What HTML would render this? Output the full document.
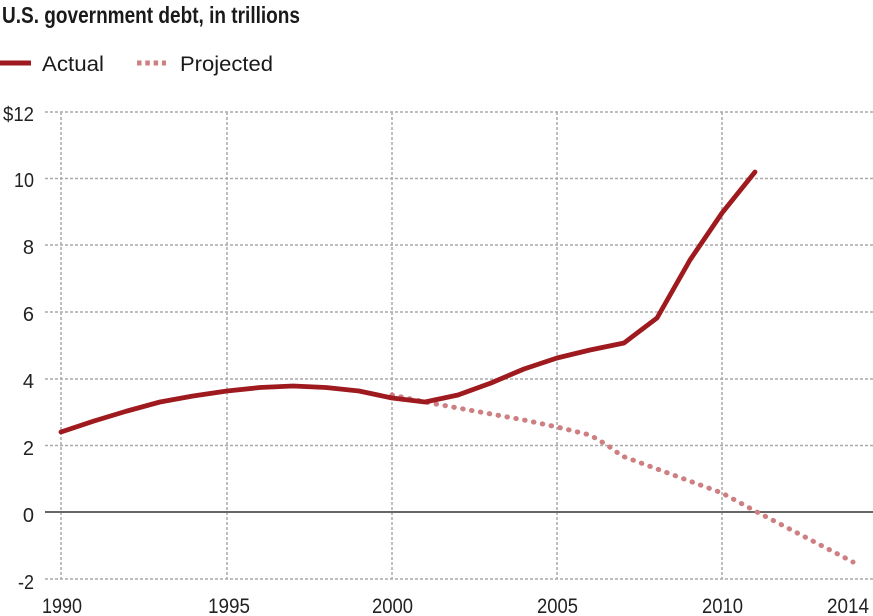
<!DOCTYPE html>
<html><head><meta charset="utf-8"><style>
html,body{margin:0;padding:0;background:#fff;}
svg{display:block;}
text{font-family:"Liberation Sans",Arial,sans-serif;}
</style></head><body>
<svg width="873" height="616" viewBox="0 0 873 616" xmlns="http://www.w3.org/2000/svg">
<rect width="873" height="616" fill="#fff"/>
<text x="2" y="23" font-size="23" font-weight="bold" fill="#1a1a1a" textLength="298" lengthAdjust="spacingAndGlyphs">U.S. government debt, in trillions</text>
<line x1="0" y1="63" x2="31" y2="63" stroke="#9e1a1e" stroke-width="5"/>
<text x="42" y="71" font-size="21.5" fill="#1a1a1a" textLength="62" lengthAdjust="spacingAndGlyphs">Actual</text>
<line x1="137" y1="63" x2="166" y2="63" stroke="#cd7f82" stroke-width="5" stroke-dasharray="4.5 3.8"/>
<text x="180" y="71" font-size="21.5" fill="#1a1a1a" textLength="93" lengthAdjust="spacingAndGlyphs">Projected</text>
<g stroke="#aaa" stroke-width="1.5" stroke-dasharray="3 2" fill="none">
<line x1="45" y1="112" x2="873" y2="112"/>
<line x1="45" y1="178.5" x2="873" y2="178.5"/>
<line x1="45" y1="245" x2="873" y2="245"/>
<line x1="45" y1="312" x2="873" y2="312"/>
<line x1="45" y1="379" x2="873" y2="379"/>
<line x1="45" y1="445.5" x2="873" y2="445.5"/>
<line x1="45" y1="579" x2="873" y2="579"/>
<line x1="61" y1="112" x2="61" y2="579"/>
<line x1="227" y1="112" x2="227" y2="579"/>
<line x1="392" y1="112" x2="392" y2="579"/>
<line x1="557" y1="112" x2="557" y2="579"/>
<line x1="722" y1="112" x2="722" y2="579"/>
</g>
<line x1="45" y1="512" x2="873" y2="512" stroke="#666" stroke-width="2"/>
<g font-size="20" fill="#222" text-anchor="end">
<text x="34" y="121" textLength="31" lengthAdjust="spacingAndGlyphs">$12</text>
<text x="34" y="187" textLength="20" lengthAdjust="spacingAndGlyphs">10</text>
<text x="34" y="254">8</text>
<text x="34" y="321">6</text>
<text x="34" y="388">4</text>
<text x="34" y="455">2</text>
<text x="34" y="522">0</text>
<text x="34" y="589" textLength="16" lengthAdjust="spacingAndGlyphs">-2</text>
</g>
<g font-size="21" fill="#222">
<text x="42" y="613" textLength="40" lengthAdjust="spacingAndGlyphs">1990</text>
<text x="208" y="613" textLength="42" lengthAdjust="spacingAndGlyphs">1995</text>
<text x="372" y="613" textLength="41" lengthAdjust="spacingAndGlyphs">2000</text>
<text x="537" y="613" textLength="41" lengthAdjust="spacingAndGlyphs">2005</text>
<text x="702" y="613" textLength="41" lengthAdjust="spacingAndGlyphs">2010</text>
<text x="827" y="613" textLength="42" lengthAdjust="spacingAndGlyphs">2014</text>
</g>
<polyline fill="none" stroke="#cd7f82" stroke-width="5" stroke-linecap="round" stroke-dasharray="0.5 8.5"
points="392,395 425,402 458,408 491,414 524,420 557,427 590,435 607,445 622,456 722,493 757,512 853,562"/>
<polyline fill="none" stroke="#9e1a1e" stroke-width="4.8" stroke-linejoin="round" stroke-linecap="round"
points="61,432 94,421 127,411 160,402 193,396 227,391 260,387.5 293,386 326,387.5 359,391 392,398 425,402 458,395 491,383 524,369 557,358 590,350 624,343 657,318 690,260 722,213 755,172"/>
</svg>
</body></html>
